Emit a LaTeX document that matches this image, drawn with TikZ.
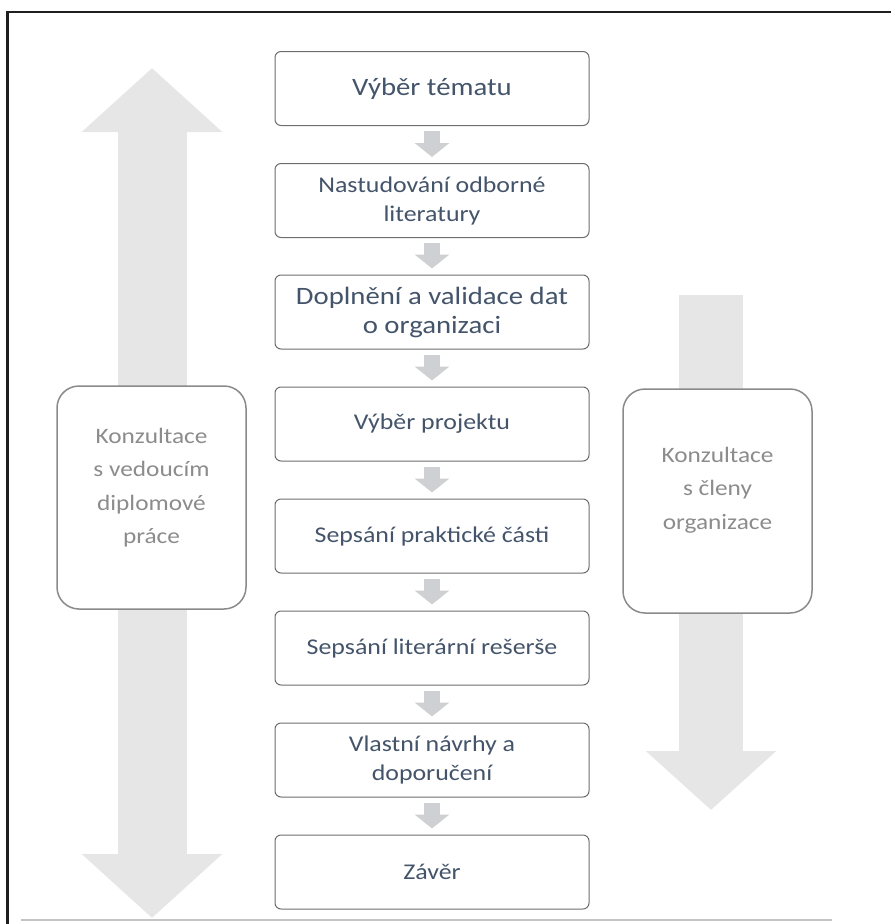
\documentclass[tikz,border=0pt]{standalone}
\usepackage{fontspec}
\setmainfont{Carlito}[FakeStretch=1.15]
\usetikzlibrary{arrows.meta}
\definecolor{txtblue}{HTML}{44546A}
\definecolor{sidetxt}{HTML}{8C8C8C}
\definecolor{bigarrow}{HTML}{E6E6E6}
\definecolor{smallarrow}{HTML}{CFD0D3}
\definecolor{boxline}{HTML}{6E6E6E}
\definecolor{sideline}{HTML}{8A8A8A}
\definecolor{baseline}{HTML}{C4C4C4}
\tikzset{
  stepbox/.style={draw=boxline, line width=1pt, rounded corners=6pt, fill=white,
    minimum width=314pt, minimum height=74pt, inner sep=0pt, align=center,
    text=txtblue, font=\fontsize{22.5}{29}\selectfont},
  bigtext/.style={font=\fontsize{25}{29}\selectfont},
  sidebox/.style={draw=sideline, line width=1.5pt, rounded corners=22pt, fill=white,
    minimum width=189pt, minimum height=223pt, inner sep=0pt},
  sidetext/.style={text=sidetxt, align=center, font=\fontsize{22}{33.5}\selectfont},
  flowarrow/.style={draw=smallarrow, line width=16pt,
    -{Triangle[width=34pt,length=14pt]}},
  bigdouble/.style={draw=bigarrow, line width=69pt,
    {Triangle[width=137pt,length=64pt]}-{Triangle[width=137pt,length=64pt]}},
  bigsingle/.style={draw=bigarrow, line width=64pt,
    -{Triangle[width=127pt,length=59pt]}},
}
\begin{document}
\begin{tikzpicture}[x=1pt,y=-1pt]
\useasboundingbox (0,0) rectangle (891,924);
% frame
\coordinate (fbl) at (7.5,924);
\coordinate (ftl) at (7.5,12);
\coordinate (ftr) at (891,12);
\draw[line width=2.5pt, color=black!88] (fbl) -- (ftl) -- (ftr);
\coordinate (bl1) at (21,920);
\coordinate (bl2) at (832,920);
\draw[line width=2pt, color=baseline] (bl1) -- (bl2);
% big arrows
\coordinate (la1) at (152,68);
\coordinate (la2) at (152,918);
\draw[bigdouble] (la1) -- (la2);
\coordinate (ra1) at (711,295);
\coordinate (ra2) at (711,810);
\draw[bigsingle] (ra1) -- (ra2);
% side boxes
\node[sidebox, label={[sidetext, yshift=10pt]center:Konzultace\\s vedoucím\\diplomové\\práce}] (lbox) at (151.5,497.5) {};
\node[sidebox, minimum height=224pt, label={[sidetext, yshift=11pt]center:Konzultace\\s členy\\organizace}] (rbox) at (717.5,501) {};
% steps
\node[stepbox, bigtext] (s1) at (432,88.5) {Výběr tématu};
\node[stepbox] (s2) at (432,200.5) {Nastudování odborné\\literatury};
\node[stepbox, bigtext] (s3) at (432,312) {Doplnění a validace dat\\o organizaci};
\node[stepbox] (s4) at (432,424) {Výběr projektu};
\node[stepbox] (s5) at (432,536) {Sepsání praktické části};
\node[stepbox] (s6) at (432,648) {Sepsání literární rešerše};
\node[stepbox] (s7) at (432,760) {Vlastní návrhy a\\doporučení};
\node[stepbox] (s8) at (432,872) {Závěr};
\foreach \a/\b in {s1/s2,s2/s3,s3/s4,s4/s5,s5/s6,s6/s7,s7/s8}
  \draw[flowarrow] ([yshift=-5pt]\a.south) -- ([yshift=6pt]\b.north);
\end{tikzpicture}
\end{document}
